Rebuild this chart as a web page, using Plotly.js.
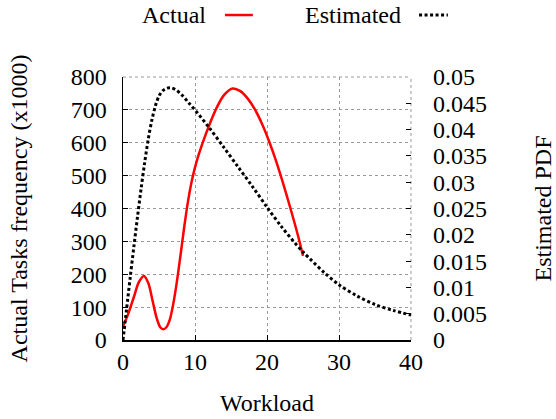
<!DOCTYPE html>
<html>
<head>
<meta charset="utf-8">
<script src="https://cdn.plot.ly/plotly-3.0.1.min.js"></script>
<style>
html, body { margin: 0; padding: 0; background: #fff; }
#chart { width: 556px; height: 419px; }
#chart svg text { font-family: 'Liberation Serif', serif !important; }
</style>
</head>
<body>
<div id="chart"></div>
<script>
// Actual tasks frequency (x1000) vs workload
var actualX = [0, 0.7, 1.5, 2.2, 2.9, 3.5, 4.1, 4.7, 5.2, 5.6, 6.0, 6.5, 7.0, 7.5, 8.0, 8.5, 9.0, 9.5, 10.0, 10.5, 11.0, 12.0, 13.0, 14.0, 15.2, 16.3, 17.3, 18.3, 19.3, 20.3, 21.3, 22.3, 23.3, 24.3, 25.0];
var actualY = [42, 78, 130, 176, 195, 174, 120, 65, 38, 33, 38, 62, 112, 180, 260, 343, 418, 478, 525, 563, 596, 655, 706, 744, 765, 757, 735, 702, 658, 604, 542, 472, 397, 318, 256];

// Estimated PDF vs workload
var estX = [0, 0.5, 1.0, 1.5, 2.0, 2.5, 3.0, 3.5, 4.0, 4.5, 5.0, 5.5, 6.1, 6.7, 7.4, 8.2, 9.1, 10.1, 12, 14, 16, 18, 20, 22, 24, 25, 26, 28, 30, 32.5, 35, 37.5, 40];
var estY = [0, 0.00594, 0.01188, 0.01763, 0.02325, 0.02863, 0.03363, 0.03813, 0.04175, 0.0445, 0.04638, 0.04738, 0.04788, 0.04794, 0.0475, 0.04656, 0.04513, 0.04356, 0.04031, 0.03663, 0.03288, 0.02913, 0.02525, 0.02156, 0.01825, 0.01675, 0.01538, 0.01275, 0.0105, 0.00838, 0.00675, 0.00563, 0.00475];

// Tick labels
var xTicks = [0, 10, 20, 30, 40];
var yTicks = [0, 100, 200, 300, 400, 500, 600, 700, 800];
var y2Ticks = [0, 0.005, 0.01, 0.015, 0.02, 0.025, 0.03, 0.035, 0.04, 0.045, 0.05];
var y2TickText = ['0', '0.005', '0.01', '0.015', '0.02', '0.025', '0.03', '0.035', '0.04', '0.045', '0.05'];

var FONT = 'Liberation Serif';
var GRID = '#999';
function f24() { return {family: FONT, size: 24, color: '#000'}; }

var traces = [
  {
    x: actualX, y: actualY, type: 'scatter', mode: 'lines', name: 'Actual',
    line: {color: 'rgb(255,0,0)', width: 2.5, shape: 'spline', smoothing: 0.9},
    xaxis: 'x', yaxis: 'y', hoverinfo: 'skip'
  },
  {
    x: estX, y: estY, type: 'scatter', mode: 'lines', name: 'Estimated',
    line: {color: '#000', width: 3, dash: '3px,2.5px', shape: 'spline', smoothing: 0.9},
    xaxis: 'x', yaxis: 'y2', hoverinfo: 'skip'
  }
];

var layout = {
  width: 556, height: 419,
  margin: {l: 123, r: 145, t: 77, b: 79, pad: 0},
  paper_bgcolor: '#fff', plot_bgcolor: '#fff',
  showlegend: false,
  font: f24(),
  xaxis: {
    range: [0, 40], tickvals: xTicks, ticks: 'inside', ticklen: 5, tickwidth: 1, tickcolor: '#000',
    showline: true, linecolor: '#000', linewidth: 1.5,
    showgrid: true, gridcolor: GRID, gridwidth: 1, griddash: 'dot',
    zeroline: false, ticklabelstandoff: 0, tickfont: f24(),
    title: {text: 'Workload', font: f24(), standoff: 20}
  },
  yaxis: {
    range: [0, 800], tickvals: yTicks, ticks: 'inside', ticklen: 5, tickwidth: 1, tickcolor: '#000',
    showline: true, linecolor: '#000', linewidth: 1.5,
    showgrid: true, gridcolor: GRID, gridwidth: 1, griddash: 'dot',
    zeroline: false, ticklabelstandoff: 10, tickfont: f24(),
    title: {text: 'Actual Tasks frequency (x1000)', font: f24(), standoff: 36}
  },
  yaxis2: {
    range: [0, 0.05], overlaying: 'y', side: 'right', anchor: 'x',
    tickvals: y2Ticks, ticktext: y2TickText, ticks: 'inside', ticklen: 5, tickwidth: 1, tickcolor: '#000',
    showline: false, showgrid: false, zeroline: false, ticklabelstandoff: 21, tickfont: f24(),
    title: {text: 'Estimated PDF', font: f24(), standoff: 60}
  },
  annotations: [
    {xref: 'paper', yref: 'paper', x: 0.295, y: 1.2357, xanchor: 'right', yanchor: 'middle',
     text: 'Actual', showarrow: false, font: f24()},
    {xref: 'paper', yref: 'paper', x: 0.972, y: 1.2357, xanchor: 'right', yanchor: 'middle',
     text: 'Estimated', showarrow: false, font: f24()}
  ],
  shapes: [
    // edge grid lines (top and right), which Plotly omits at range ends
    {type: 'line', xref: 'paper', yref: 'paper', x0: 0, x1: 1, y0: 1, y1: 1, layer: 'below',
     line: {color: GRID, width: 1, dash: 'dot'}},
    {type: 'line', xref: 'paper', yref: 'paper', x0: 1, x1: 1, y0: 0, y1: 1, layer: 'below',
     line: {color: GRID, width: 1, dash: 'dot'}},
    // legend samples
    {type: 'line', xref: 'paper', yref: 'paper', x0: 0.354, x1: 0.451, y0: 1.2357, y1: 1.2357,
     line: {color: 'rgb(255,0,0)', width: 2.5}},
    {type: 'line', xref: 'paper', yref: 'paper', x0: 1.028, x1: 1.128, y0: 1.2357, y1: 1.2357,
     line: {color: '#000', width: 3, dash: '3px,2.5px'}}
  ]
};

Plotly.newPlot('chart', traces, layout, {staticPlot: true, displayModeBar: false});
</script>
</body>
</html>
